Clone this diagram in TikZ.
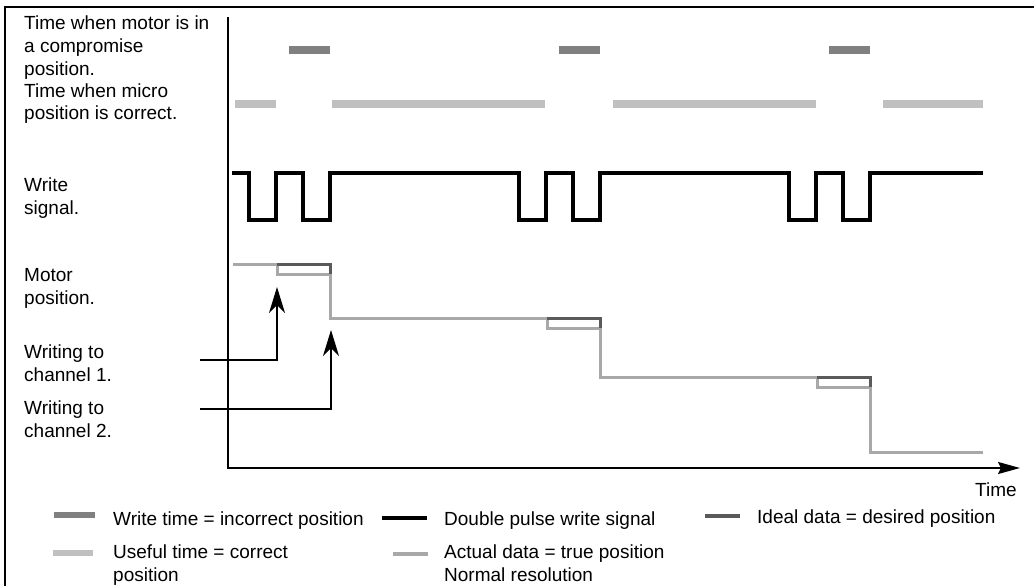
\documentclass[tikz,border=0pt]{standalone}
\usepackage{fontspec}
\setmainfont{Liberation Sans}
\usetikzlibrary{arrows.meta}
\definecolor{darkbar}{HTML}{808080}
\definecolor{lightbar}{HTML}{C0C0C0}
\definecolor{idealc}{HTML}{5A5A5A}
\definecolor{actualc}{HTML}{A8A8A8}
\begin{document}
\begin{tikzpicture}[x=1pt,y=-1pt,
  lbl/.style={anchor=base west, inner sep=0pt, font=\fontsize{19}{23}\selectfont, align=left},
  frameline/.style={line width=2pt, black},
  axisline/.style={line width=2pt, black},
  signal/.style={line width=3.5pt, black, line join=miter},
  actual/.style={line width=3pt, actualc, line join=miter},
  ideal/.style={line width=3pt, idealc, line join=miter},
  pointer/.style={line width=2pt, black, -{Stealth[length=26pt,width=16pt,inset=8pt]}},
  swatch/.style={line width=6pt}
]
\useasboundingbox (0,0) rectangle (1034,586);
% frame
\draw[frameline] (5,586) -- (5,7) -- (1034,7);

% left labels (base anchor = baseline of the last line)
\node[lbl] (lab1) at (24,76) {Time when motor is in\\a compromise\\position.};
\node[lbl] (lab2) at (24,120) {Time when micro\\position is correct.};
\node[lbl] (lab3) at (24,214) {Write\\signal.};
\node[lbl] (lab4) at (24,304) {Motor\\position.};
\node[lbl] (lab5) at (24,381) {Writing to\\channel 1.};
\node[lbl] (lab6) at (24,437) {Writing to\\channel 2.};

% bars
\foreach \a/\b in {289/330,559/600,829/870}
  \fill[darkbar] (\a,46) rectangle (\b,54);
\foreach \a/\b in {235/276,332/545,613/816,883/983}
  \fill[lightbar] (\a,100) rectangle (\b,108);

% write signal
\draw[signal] (232,173) -- (249,173) -- (249,220) -- (276,220) -- (276,173)
  -- (303,173) -- (303,220) -- (330,220) -- (330,173)
  -- (519,173) -- (519,220) -- (546,220) -- (546,173)
  -- (573,173) -- (573,220) -- (600,220) -- (600,173)
  -- (789,173) -- (789,220) -- (816,220) -- (816,173)
  -- (843,173) -- (843,220) -- (870,220) -- (870,173) -- (983,173);

% motor position
\draw[actual] (233,264) -- (277,264) -- (277,274) -- (330,274) -- (330,318)
  -- (547,318) -- (547,328) -- (600,328) -- (600,377)
  -- (817,377) -- (817,387) -- (870,387) -- (870,452) -- (983,452);
\draw[ideal] (277,264) -- (330,264) -- (330,274);
\draw[ideal] (547,318) -- (600,318) -- (600,328);
\draw[ideal] (817,377) -- (870,377) -- (870,387);

% axes
\coordinate (ytop) at (228,17);
\coordinate (orig) at (228,468);
\coordinate (xend) at (1020,468);
\draw[axisline, -{Stealth[length=22pt,width=12pt,inset=3pt]}] (ytop) -- (orig) -- (xend);
\node[lbl] (timelbl) at (975,496) {Time};

% pointers
\coordinate (w1) at (200,360);
\coordinate (t1) at (277,287);
\coordinate (w2) at (200,409);
\coordinate (t2) at (331,330);
\draw[pointer] (w1) -| (t1);
\draw[pointer] (w2) -| (t2);

% legend
\draw[swatch, darkbar] (54,515) -- (95,515);
\node[lbl] (leg1) at (113,525) {Write time = incorrect position};
\draw[line width=4pt, black] (382,518) -- (427,518);
\node[lbl] (leg2) at (444,525) {Double pulse write signal};
\draw[line width=4pt, idealc] (705,516) -- (740,516);
\node[lbl] (leg3) at (757,523) {Ideal data = desired position};
\draw[swatch, lightbar] (53,553) -- (93,553);
\node[lbl] (leg4) at (113,581) {Useful time = correct\\position};
\draw[line width=4pt, actualc] (393,554) -- (428,554);
\node[lbl] (leg5) at (444,581) {Actual data = true position\\Normal resolution};
\end{tikzpicture}
\end{document}
